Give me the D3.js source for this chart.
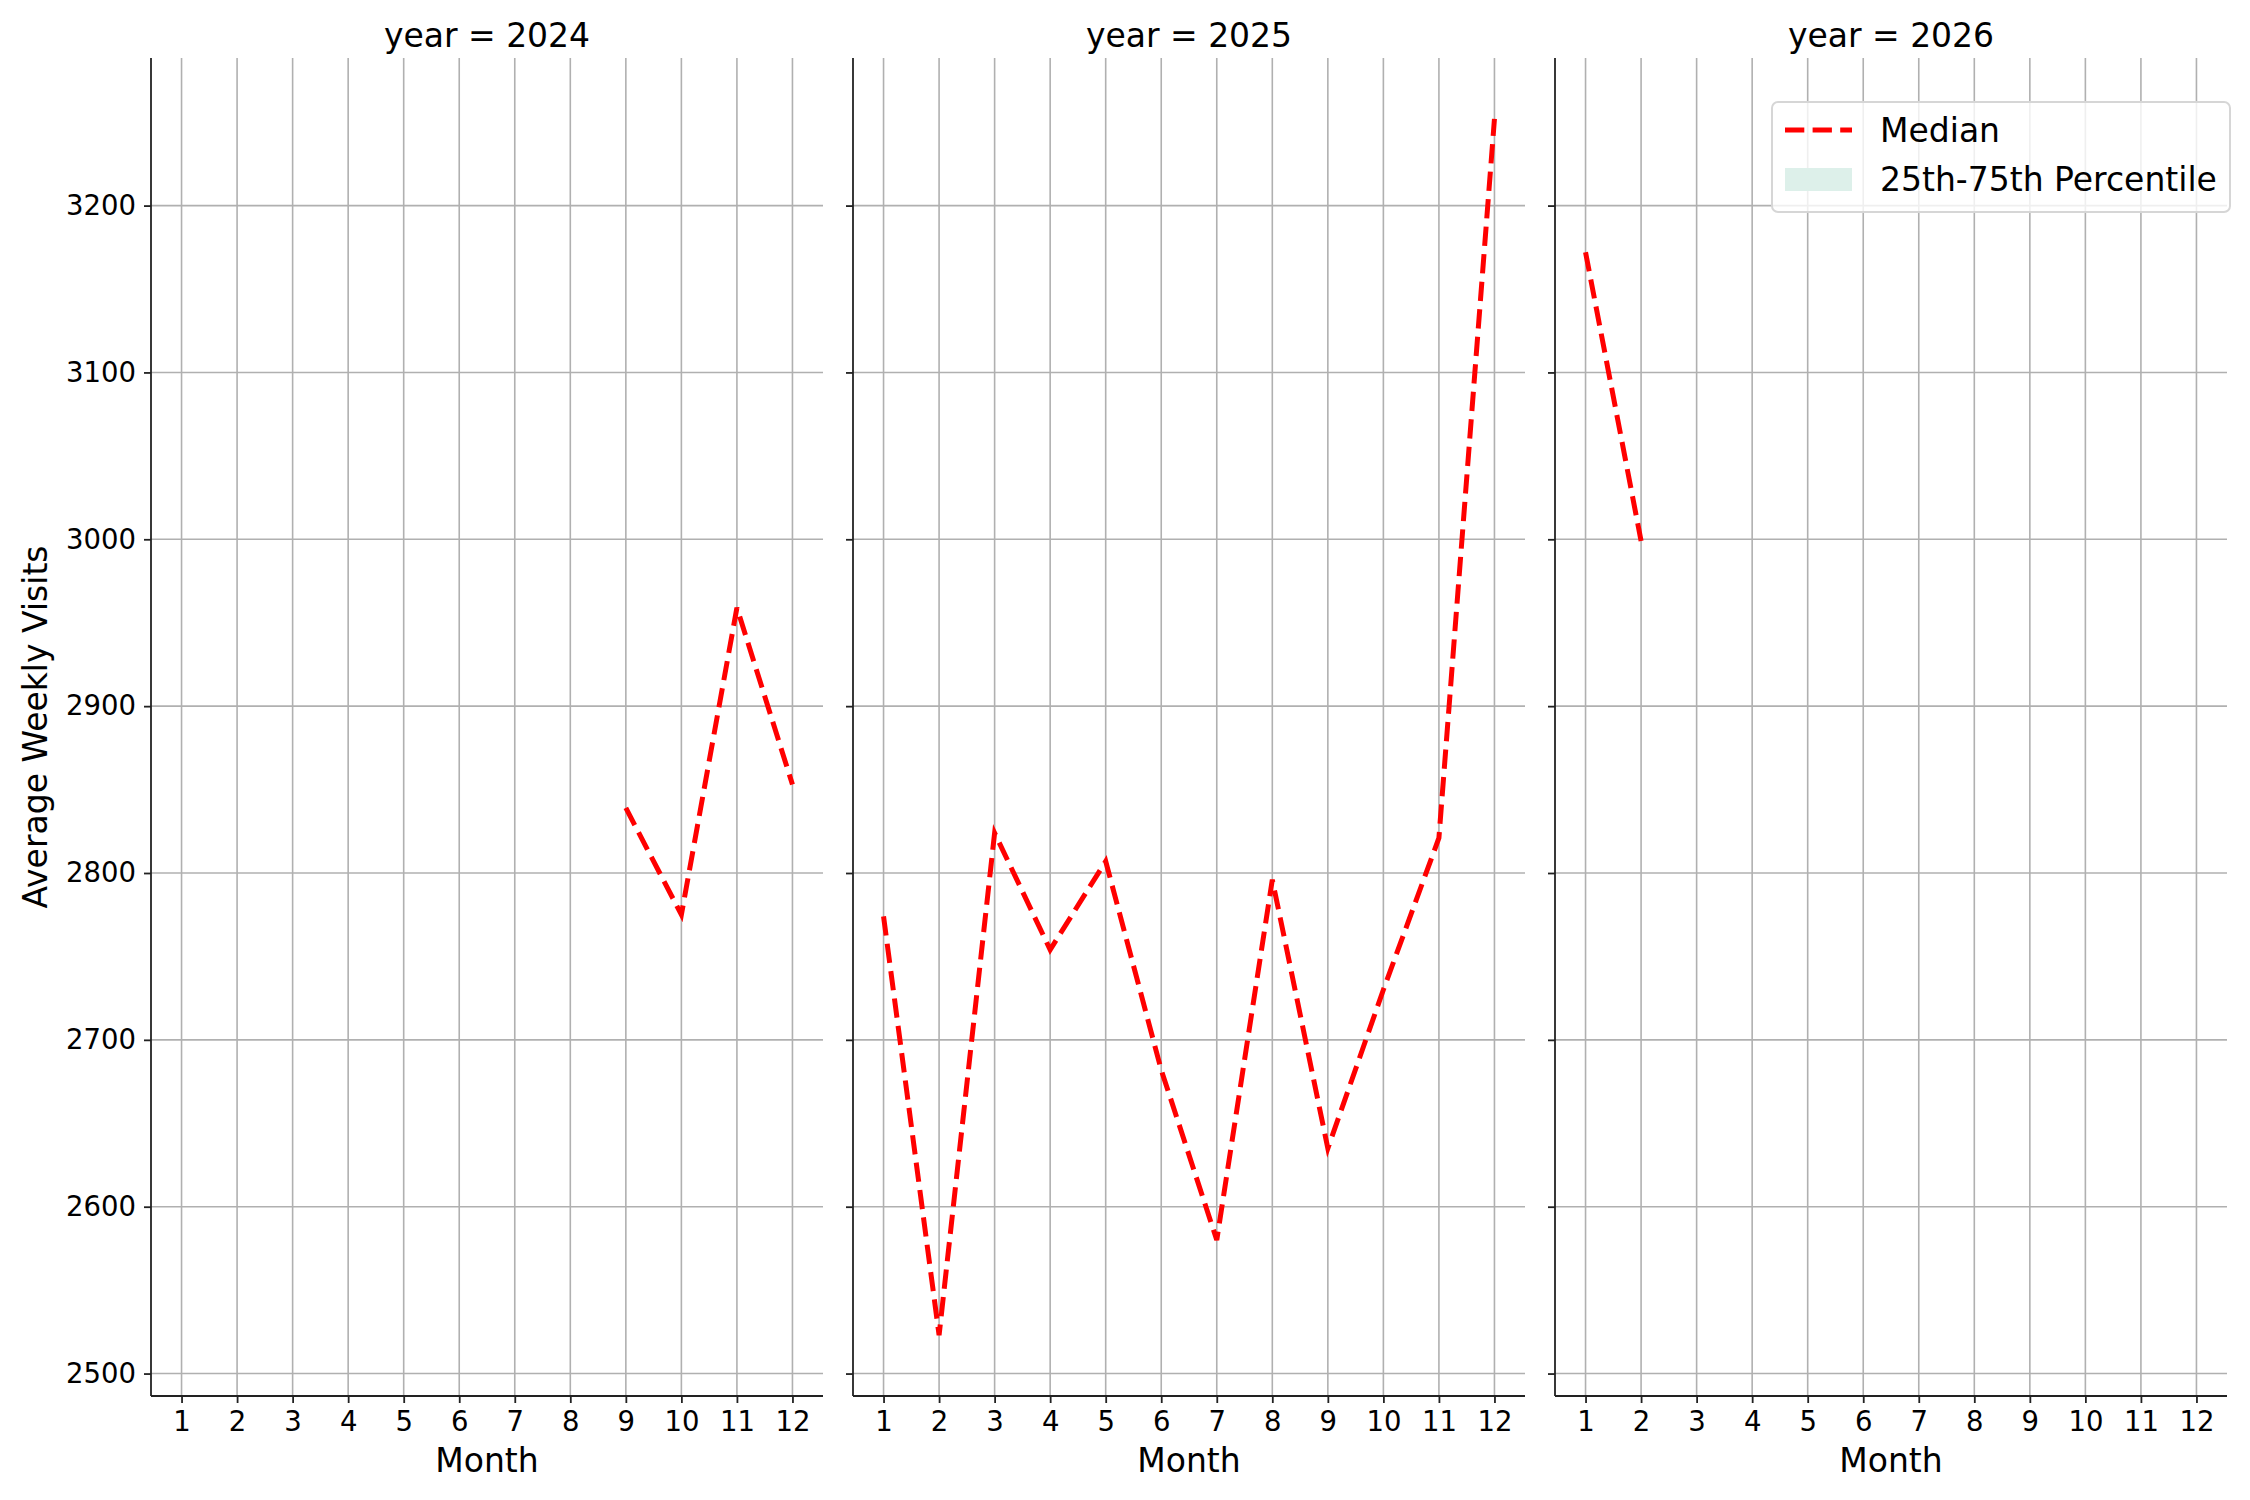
<!DOCTYPE html>
<html>
<head>
<meta charset="utf-8">
<script src="https://cdn.jsdelivr.net/npm/d3@7"></script>
<style>
	body { margin: 0; background: #fff; }
	svg text { font-family: "DejaVu Sans", sans-serif; fill: #000; }
</style>
</head>
<body>
<svg id="chart" width="2250" height="1500"></svg>
<script>
var years = [2024, 2025, 2026];
var monthTicks = [1, 2, 3, 4, 5, 6, 7, 8, 9, 10, 11, 12];
var yTicks = [2500, 2600, 2700, 2800, 2900, 3000, 3100, 3200];

var months2024 = [9, 10, 11, 12];
var median2024 = [2839, 2775, 2959, 2853];

var months2025 = [1, 2, 3, 4, 5, 6, 7, 8, 9, 10, 11, 12];
var median2025 = [2774, 2523, 2824, 2754, 2807, 2682, 2580, 2796, 2635, 2730, 2821, 3252];

var months2026 = [1, 2];
var median2026 = [3172, 2999];

var legendLabels = ["Median", "25th-75th Percentile"];

var Chart = (function(){
	var svg = d3.select("#chart");
	var panelLefts = [151, 853, 1555];
	var panelW = 672, top = 58, bottom = 1396;
	var gridColor = "#b0b0b0", spineColor = "#222";
	var labelSize = "33px", tickSize = "27.5px";

	var series = [
		{ months: months2024, values: median2024 },
		{ months: months2025, values: median2025 },
		{ months: months2026, values: median2026 }
	];

	// shared y domain with matplotlib-style 5% padding
	var all = median2024.concat(median2025, median2026);
	var lo = d3.min(all), hi = d3.max(all), pad = (hi - lo) * 0.05;
	var y = d3.scaleLinear().domain([lo - pad, hi + pad]).range([bottom, top]);

	var drawPanel = function(i){
		var left = panelLefts[i];
		var x = d3.scaleLinear().domain([0.45, 12.55]).range([left, left + panelW]);
		var g = svg.append("g");

		// grid
		g.selectAll(".vgrid").data(monthTicks).enter().append("line")
			.attr("x1", function(d){ return x(d); })
			.attr("x2", function(d){ return x(d); })
			.attr("y1", top).attr("y2", bottom)
			.attr("stroke", gridColor).attr("stroke-width", 1.6);
		g.selectAll(".hgrid").data(yTicks).enter().append("line")
			.attr("x1", left).attr("x2", left + panelW)
			.attr("y1", function(d){ return y(d); })
			.attr("y2", function(d){ return y(d); })
			.attr("stroke", gridColor).attr("stroke-width", 1.6);

		// axes
		var xAxis = d3.axisBottom(x).tickValues(monthTicks).tickSize(7).tickPadding(8).tickFormat(d3.format("d"));
		var gx = g.append("g").attr("transform", "translate(0," + bottom + ")").call(xAxis);
		gx.select(".domain").attr("d", "M" + left + ",0H" + (left + panelW));

		var yAxis = d3.axisLeft(y).tickValues(yTicks).tickSize(7).tickPadding(8).tickFormat(d3.format("d"));
		var gy = g.append("g").attr("transform", "translate(" + left + ",0)").call(yAxis);
		gy.select(".domain").attr("d", "M0," + top + "V" + bottom);
		if(i > 0) gy.selectAll("text").remove();

		[gx, gy].forEach(function(a){
			a.selectAll(".domain").attr("stroke", spineColor).attr("stroke-width", 1.8);
			a.selectAll(".tick line").attr("stroke", spineColor).attr("stroke-width", 1.8);
			a.selectAll("text").style("font-size", tickSize).attr("fill", "#000");
		});

		// median line
		var s = series[i];
		var line = d3.line()
			.x(function(d, j){ return x(s.months[j]); })
			.y(function(d){ return y(d); });
		g.append("path")
			.attr("d", line(s.values))
			.attr("fill", "none")
			.attr("stroke", "#ff0000")
			.attr("stroke-width", 5)
			.attr("stroke-dasharray", "19.3,8.3");

		g.append("text")
			.attr("x", left + panelW / 2).attr("y", 47)
			.attr("text-anchor", "middle")
			.style("font-size", labelSize)
			.text("year = " + years[i]);

		g.append("text")
			.attr("x", left + panelW / 2).attr("y", 1472)
			.attr("text-anchor", "middle")
			.style("font-size", labelSize)
			.text("Month");
	};

	var drawLegend = function(){
		var lg = svg.append("g");
		lg.append("rect")
			.attr("x", 1772).attr("y", 102).attr("width", 458).attr("height", 110)
			.attr("rx", 6)
			.attr("fill", "rgba(255,255,255,0.8)")
			.attr("stroke", "#d6d6d6").attr("stroke-width", 2);
		lg.append("line")
			.attr("x1", 1785).attr("x2", 1852).attr("y1", 130).attr("y2", 130)
			.attr("stroke", "#ff0000").attr("stroke-width", 5)
			.attr("stroke-dasharray", "19.3,8.3");
		lg.append("rect")
			.attr("x", 1785).attr("y", 168).attr("width", 67).attr("height", 23)
			.attr("fill", "#ddf0ea");
		lg.selectAll(".lbl").data(legendLabels).enter().append("text")
			.attr("x", 1880)
			.attr("y", function(d, i){ return 142 + i * 49; })
			.style("font-size", labelSize)
			.text(function(d){ return d; });
	};

	return {
		render: function(){
			years.forEach(function(yr, i){ drawPanel(i); });
			drawLegend();
			svg.append("text")
				.attr("transform", "translate(47," + ((top + bottom) / 2) + ") rotate(-90)")
				.attr("text-anchor", "middle")
				.style("font-size", labelSize)
				.text("Average Weekly Visits");
		}
	};
})();

Chart.render();
</script>
</body>
</html>
